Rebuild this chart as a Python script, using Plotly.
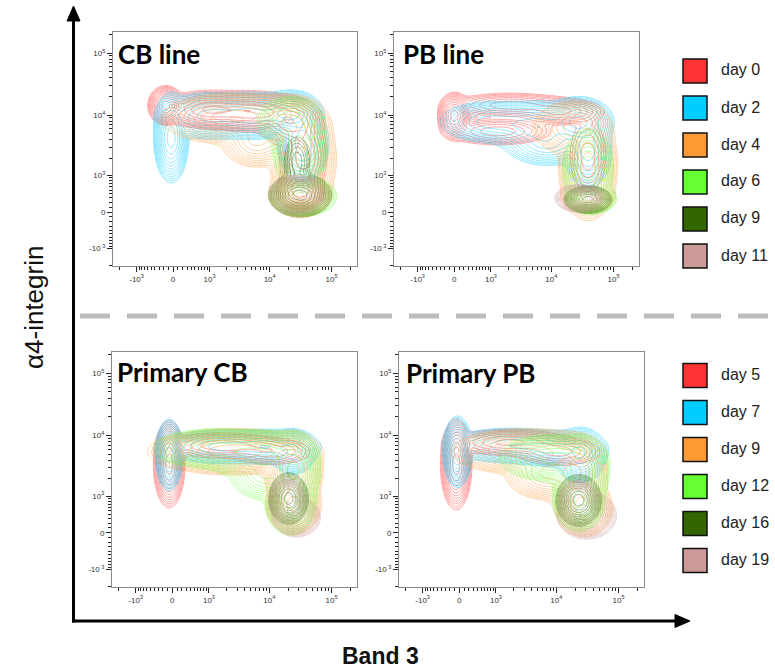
import numpy as np
import plotly.graph_objects as go

# ---------------- data ----------------
PANEL_TITLES = ["CB line", "PB line", "Primary CB", "Primary PB"]
LINE_DAYS = ["day 0", "day 2", "day 4", "day 6", "day 9", "day 11"]
PRIMARY_DAYS = ["day 5", "day 7", "day 9", "day 12", "day 16", "day 19"]
DAY_COLORS = ["#ff3333", "#00ccff", "#ff9933", "#66ff33", "#336600", "#cc9999"]

X_TICK_VALUES = [-1000, 0, 1000, 10000, 100000]
Y_TICK_VALUES = [-1000, 0, 1000, 10000, 100000]
TICK_LABELS = ["-10<sup>3</sup>", "0", "10<sup>3</sup>", "10<sup>4</sup>", "10<sup>5</sup>"]
Y_TICK_LABELS = ["-10<sup> 3</sup>", "0", "10<sup>3</sup>", "10<sup>4</sup>", "10<sup>5</sup>"]
MINOR_TICK_VALUES = ([-2000] + [-k * 100 for k in range(1, 10)] + [k * 100 for k in range(1, 10)]
                     + [k * 1000 for k in range(2, 10)] + [k * 10000 for k in range(2, 10)] + [200000])

# population cores: (Band 3, alpha4-integrin, spread x, spread y [display decades], weight)
CB_LINE = [
    [(-154, 14460, .09, .10, 1.0), (1028, 12300, .30, .11, .35), (5482, 11480, .30, .12, .30),
     (21870, 7757, .20, .15, .20), (34690, 2153, .16, .25, .12), (30910, 493, .16, .13, .12)],
    [(-38, 4349, .09, .23, 1.0), (1028, 9770, .30, .13, .40), (5482, 9770, .30, .13, .45),
     (21870, 10965, .17, .12, .65), (34690, 3447, .15, .22, .30)],
    [(2727, 8706, .40, .14, .35), (6155, 3876, .20, .15, .25), (19500, 6911, .22, .16, .55),
     (34690, 1912, .17, .27, .65), (30910, 412, .16, .12, .60)],
    [(21870, 7757, .20, .15, .25), (30910, 2727, .15, .22, .45), (34690, 335, .17, .10, 1.0)],
    [(30910, 365, .16, .11, 1.0), (27550, 1695, .10, .20, .05)],
    [(27550, 380, .14, .10, 1.0), (2727, 9770, .45, .12, .05)],
]
PB_LINE = [
    [(0, 9770, .085, .12, 1.0), (2153, 14460, .40, .08, .12), (13800, 11480, .30, .09, .10),
     (1325, 5482, .35, .09, .12), (38910, 2153, .14, .28, .05)],
    [(1028, 7757, .30, .12, .30), (6155, 6600, .30, .14, .50), (8706, 3447, .25, .13, .25),
     (27550, 7757, .18, .13, 1.0), (38910, 2727, .14, .22, .30)],
    [(21870, 6155, .22, .15, .40), (38910, 1500, .15, .28, 1.0), (38910, 335, .14, .09, .50)],
    [(38910, 1325, .14, .22, .50), (43660, 291, .13, .08, 1.0)],
    [(38910, 263, .12, .07, 1.0)],
    [(27550, 291, .12, .07, 1.0)],
]
PRIMARY_CB = [
    [(-64, 3447, .08, .22, 1.0), (1695, 6911, .40, .09, .08), (10965, 5482, .30, .10, .05)],
    [(-64, 4884, .07, .18, 1.0), (1695, 6600, .35, .10, .25), (9770, 6600, .30, .10, .30),
     (24550, 5482, .13, .13, .30)],
    [(2727, 5482, .45, .12, .40), (24550, 2727, .15, .20, .50), (24550, 679, .14, .15, .50)],
    [(1325, 6155, .35, .11, .35), (6911, 4884, .30, .13, .50), (8706, 2424, .20, .15, .30),
     (24550, 2727, .14, .20, .70), (21870, 783, .13, .17, .80)],
    [(20410, 900, .10, .13, 1.0)],
    [(27550, 335, .12, .10, 1.0), (19500, 783, .10, .12, .50)],
]
PRIMARY_PB = [
    [(-64, 3447, .08, .23, 1.0), (1695, 7757, .40, .09, .10), (10965, 5482, .30, .10, .07)],
    [(-38, 5482, .075, .18, 1.0), (1695, 6911, .35, .10, .30), (8706, 6155, .30, .10, .40),
     (24550, 4884, .14, .15, .50)],
    [(3447, 5482, .40, .12, .40), (6911, 2424, .22, .14, .30), (19500, 2424, .17, .20, .50),
     (27550, 583, .15, .15, .40)],
    [(8706, 4349, .30, .13, .40), (24550, 2424, .15, .20, .70), (22920, 783, .13, .15, .90)],
    [(22920, 829, .115, .13, 1.0)],
    [(30910, 380, .15, .12, 1.0), (21870, 900, .10, .10, .40)],
]
PANELS = [CB_LINE, PB_LINE, PRIMARY_CB, PRIMARY_PB]

# ---------------- layout helpers ----------------
W, H = 775, 670


def px(x):
    return x / W


def py(y):
    return 1 - y / H


def T(v):
    """biexponential (logicle-like) display transform, in decades"""
    return np.arcsinh(np.asarray(v, dtype=float) / 551.0) / np.log(10)


X_RANGE = [-0.97, 2.97]
Y_RANGE = [-0.87, 2.90]
# pixel boxes of the four panels (left, top, right, bottom)
BOXES = [(113, 32, 357, 266), (394, 32, 639, 266), (112, 352, 357, 587), (399, 352, 644, 587)]

gx = np.linspace(X_RANGE[0], X_RANGE[1], 200)
gy = np.linspace(Y_RANGE[0], Y_RANGE[1], 200)
GX, GY = np.meshgrid(gx, gy)

fig = go.Figure()
layout = {}
for p, pops in enumerate(PANELS):
    xa = "x" if p == 0 else f"x{p+1}"
    ya = "y" if p == 0 else f"y{p+1}"
    for d, comps in enumerate(pops):
        dens = np.zeros_like(GX)
        for (b3, a4, sx, sy, w) in comps:
            cx, cy = T(b3), T(a4)
            dens += w * np.exp(-((GX - cx) ** 2) / (2 * sx ** 2) - ((GY - cy) ** 2) / (2 * sy ** 2))
        z = np.log10(np.maximum(dens / dens.max(), 1e-12))
        c = DAY_COLORS[d]
        fig.add_trace(go.Contour(
            x=gx, y=gy, z=z, xaxis=xa, yaxis=ya,
            contours=dict(coloring="lines", start=-2.2, end=-0.1, size=0.19),
            colorscale=[[0, c], [1, c]], showscale=False,
            line=dict(width=0.8, smoothing=1), opacity=0.55, hoverinfo="skip",
        ))
    l, t, r, b = BOXES[p]
    axis_common = dict(
        showgrid=False, zeroline=False, showline=True, linecolor="#8a8a8a", linewidth=1,
        mirror=True, ticks="outside", ticklen=5, tickwidth=1, tickcolor="#222",
        tickfont=dict(family="Liberation Sans, Arial", size=8, color="#333"),
        minor=dict(tickvals=list(T(MINOR_TICK_VALUES)), ticks="outside", ticklen=3,
                   tickwidth=1, tickcolor="#222"),
    )
    layout["xaxis" if p == 0 else f"xaxis{p+1}"] = dict(
        axis_common, domain=[px(l), px(r)], range=X_RANGE, anchor=ya,
        tickmode="array", tickvals=list(T(X_TICK_VALUES)), ticktext=TICK_LABELS)
    layout["yaxis" if p == 0 else f"yaxis{p+1}"] = dict(
        axis_common, domain=[py(b), py(t)], range=Y_RANGE, anchor=xa,
        tickmode="array", tickvals=list(T(Y_TICK_VALUES)), ticktext=Y_TICK_LABELS)

annotations = []
title_pos = [(116, 54), (401, 54), (115, 372), (404, 373)]
for title, (tx, ty) in zip(PANEL_TITLES, title_pos):
    annotations.append(dict(text=f"<b>{title}</b>", x=px(tx), y=py(ty), xref="paper", yref="paper",
                            xanchor="left", yanchor="middle", showarrow=False,
                            font=dict(family="Lato", size=26, color="#000")))

shapes = []
# legends
for days, y0 in [(LINE_DAYS, 71), (PRIMARY_DAYS, 375.5)]:
    for i, (lab, col) in enumerate(zip(days, DAY_COLORS)):
        cy = y0 + i * 37
        shapes.append(dict(type="rect", xref="paper", yref="paper",
                           x0=px(683), x1=px(707), y0=py(cy + 12), y1=py(cy - 12),
                           fillcolor=col, line=dict(color="#111", width=1.5)))
        annotations.append(dict(text=lab, x=px(719), y=py(cy - 1), xref="paper", yref="paper",
                                xanchor="left", yanchor="middle", showarrow=False,
                                font=dict(family="Liberation Sans, Arial", size=16, color="#222")))

# big axis arrows
shapes.append(dict(type="line", xref="paper", yref="paper", x0=px(73.5), x1=px(73.5),
                   y0=py(622.5), y1=py(18), line=dict(color="#000", width=3)))
shapes.append(dict(type="path", xref="paper", yref="paper",
                   path=f"M {px(67)},{py(21)} L {px(80)},{py(21)} L {px(73.5)},{py(6)} Z",
                   fillcolor="#000", line=dict(color="#000", width=1)))
shapes.append(dict(type="line", xref="paper", yref="paper", x0=px(72), x1=px(678),
                   y0=py(621), y1=py(621), line=dict(color="#000", width=3)))
shapes.append(dict(type="path", xref="paper", yref="paper",
                   path=f"M {px(675)},{py(614.5)} L {px(675)},{py(627.5)} L {px(690)},{py(621)} Z",
                   fillcolor="#000", line=dict(color="#000", width=1)))
# dashed separator
shapes.append(dict(type="line", xref="paper", yref="paper", x0=px(80), x1=px(772),
                   y0=py(316), y1=py(316), line=dict(color="#bdbdbd", width=5, dash="30px,17px")))

annotations.append(dict(text="<b>Band 3</b>", x=px(380), y=py(656), xref="paper", yref="paper",
                        xanchor="center", yanchor="middle", showarrow=False,
                        font=dict(family="Liberation Sans, Arial", size=23, color="#111")))
annotations.append(dict(text="α4-integrin", x=px(34), y=py(308), xref="paper", yref="paper",
                        xanchor="center", yanchor="middle", showarrow=False, textangle=-90,
                        font=dict(family="Liberation Sans, Arial", size=26, color="#111")))

fig.update_layout(
    width=W, height=H, autosize=False, margin=dict(l=0, r=0, t=0, b=0),
    paper_bgcolor="white", plot_bgcolor="white", showlegend=False,
    annotations=annotations, shapes=shapes, **layout)

fig.write_html("out.html", config={"displayModeBar": False},
               post_script="document.body.style.margin='0';document.body.style.overflow='hidden';")
